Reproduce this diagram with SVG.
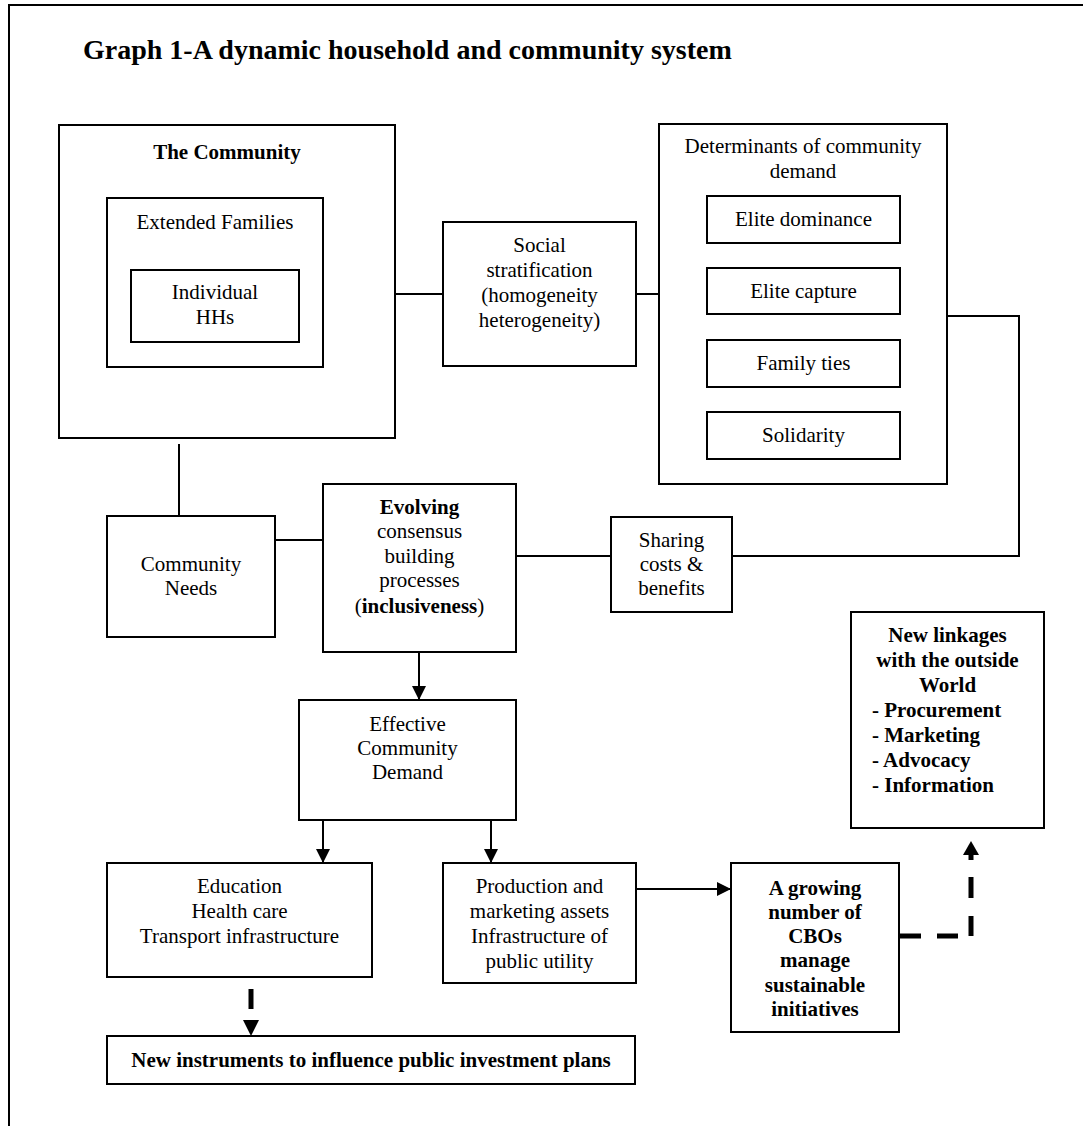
<svg xmlns="http://www.w3.org/2000/svg" width="1083" height="1126" viewBox="0 0 1083 1126">
<defs>
<style>
.box{fill:none;stroke:#000;stroke-width:2}
.ln{fill:none;stroke:#000;stroke-width:2}
.dash{fill:none;stroke:#000;stroke-width:5}
text{font-family:"Liberation Serif","Times New Roman",serif;font-size:21px;fill:#000}
.c{text-anchor:middle}
.b{font-weight:bold}
.title{font-size:28px;font-weight:bold}
</style>
<marker id="arr" viewBox="0 0 14 14" refX="14" refY="7" markerWidth="14" markerHeight="14" markerUnits="userSpaceOnUse" orient="auto">
<path d="M0,0 L14,7 L0,14 Z" fill="#000"/>
</marker>
</defs>
<rect width="1083" height="1126" fill="#fff"/>
<path d="M9,1130 V5 H1090" class="ln"/>
<text x="83" y="59" class="title">Graph 1-A dynamic household and community system</text>

<g id="community">
<rect x="59" y="125" width="336" height="313" class="box"/>
<text x="227" y="159" class="c b">The Community</text>
</g>
<g id="extended-families">
<rect x="107" y="198" width="216" height="169" class="box"/>
<text x="215" y="229" class="c">Extended Families</text>
</g>
<g id="individual-hhs">
<rect x="131" y="270" width="168" height="72" class="box"/>
<text x="215" y="299" class="c">Individual</text>
<text x="215" y="324" class="c">HHs</text>
</g>
<g id="social-stratification">
<rect x="443" y="222" width="193" height="144" class="box"/>
<text x="539.5" y="252" class="c">Social</text>
<text x="539.5" y="277" class="c">stratification</text>
<text x="539.5" y="302" class="c">(homogeneity</text>
<text x="539.5" y="327" class="c">heterogeneity)</text>
</g>
<g id="determinants">
<rect x="659" y="124" width="288" height="360" class="box"/>
<text x="803" y="153" class="c">Determinants of community</text>
<text x="803" y="178" class="c">demand</text>
</g>
<g id="elite-dominance">
<rect x="707" y="196" width="193" height="47" class="box"/>
<text x="803.5" y="226" class="c">Elite dominance</text>
</g>
<g id="elite-capture">
<rect x="707" y="268" width="193" height="46" class="box"/>
<text x="803.5" y="298" class="c">Elite capture</text>
</g>
<g id="family-ties">
<rect x="707" y="340" width="193" height="47" class="box"/>
<text x="803.5" y="370" class="c">Family ties</text>
</g>
<g id="solidarity">
<rect x="707" y="412" width="193" height="47" class="box"/>
<text x="803.5" y="442" class="c">Solidarity</text>
</g>
<g id="community-needs">
<rect x="107" y="516" width="168" height="121" class="box"/>
<text x="191" y="571" class="c">Community</text>
<text x="191" y="595" class="c">Needs</text>
</g>
<g id="evolving">
<rect x="323" y="484" width="193" height="168" class="box"/>
<text x="419.5" y="514" class="c b">Evolving</text>
<text x="419.5" y="538" class="c">consensus</text>
<text x="419.5" y="563" class="c">building</text>
<text x="419.5" y="587" class="c">processes</text>
<text x="419.5" y="613" class="c">(<tspan class="b">inclusiveness</tspan>)</text>
</g>
<g id="sharing">
<rect x="611" y="517" width="121" height="95" class="box"/>
<text x="671.5" y="547" class="c">Sharing</text>
<text x="671.5" y="571" class="c">costs &amp;</text>
<text x="671.5" y="595" class="c">benefits</text>
</g>
<g id="effective-demand">
<rect x="299" y="700" width="217" height="120" class="box"/>
<text x="407.5" y="731" class="c">Effective</text>
<text x="407.5" y="755" class="c">Community</text>
<text x="407.5" y="779" class="c">Demand</text>
</g>
<g id="education">
<rect x="107" y="863" width="265" height="114" class="box"/>
<text x="239.5" y="893" class="c">Education</text>
<text x="239.5" y="918" class="c">Health care</text>
<text x="239.5" y="943" class="c">Transport infrastructure</text>
</g>
<g id="production">
<rect x="443" y="863" width="193" height="120" class="box"/>
<text x="539.5" y="893" class="c">Production and</text>
<text x="539.5" y="918" class="c">marketing assets</text>
<text x="539.5" y="943" class="c">Infrastructure of</text>
<text x="539.5" y="968" class="c">public utility</text>
</g>
<g id="cbos">
<rect x="731" y="863" width="168" height="169" class="box"/>
<text x="815" y="895" class="c b">A growing</text>
<text x="815" y="919" class="c b">number of</text>
<text x="815" y="943" class="c b">CBOs</text>
<text x="815" y="967" class="c b">manage</text>
<text x="815" y="992" class="c b">sustainable</text>
<text x="815" y="1016" class="c b">initiatives</text>
</g>
<g id="new-linkages">
<rect x="851" y="612" width="193" height="216" class="box"/>
<text x="947.5" y="642" class="c b">New linkages</text>
<text x="947.5" y="667" class="c b">with the outside</text>
<text x="947.5" y="692" class="c b">World</text>
<text x="872" y="717" class="b">- Procurement</text>
<text x="872" y="742" class="b">- Marketing</text>
<text x="872" y="767" class="b">- Advocacy</text>
<text x="872" y="792" class="b">- Information</text>
</g>
<g id="new-instruments">
<rect x="107" y="1036" width="528" height="48" class="box"/>
<text x="371" y="1067" class="c b">New instruments to influence public investment plans</text>
</g>

<g id="connectors">
<path d="M395,294 H443" class="ln"/>
<path d="M636,294 H659" class="ln"/>
<path d="M179,444 V516" class="ln"/>
<path d="M275,540 H323" class="ln"/>
<path d="M516,556 H611" class="ln"/>
<path d="M947,316 H1019 V556 H732" class="ln"/>
<path d="M419,652 V700" class="ln" marker-end="url(#arr)"/>
<path d="M323,820 V863" class="ln" marker-end="url(#arr)"/>
<path d="M491,820 V863" class="ln" marker-end="url(#arr)"/>
<path d="M636,889 H731" class="ln" marker-end="url(#arr)"/>
<path d="M251,989 V1009" class="dash"/>
<polygon points="243,1020 259,1020 251,1036" fill="#000"/>
<path d="M900,936 H921 M937,936 H958 M971,936 V916 M971,898 V877 M971,860 V853" class="dash"/>
<polygon points="963,855 979,855 971,841" fill="#000"/>
</g>
</svg>
